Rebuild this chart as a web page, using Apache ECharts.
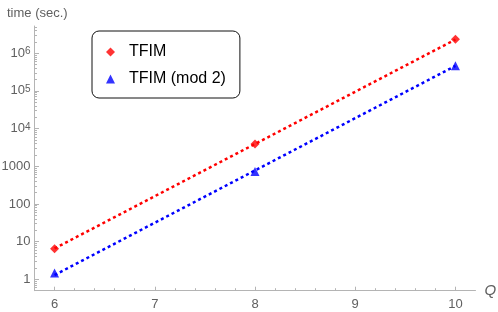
<!DOCTYPE html>
<html>
<head>
<meta charset="utf-8">
<script src="https://cdn.jsdelivr.net/npm/echarts@6/dist/echarts.min.js"></script>
<style>
html,body{margin:0;padding:0;background:#fff;}
#c{width:498px;height:312px;}
</style>
</head>
<body>
<div id="c"></div>
<script>
// ---- data ----
const qValues = [6, 8, 10];
const tfimTimes = [6.5, 3880, 2.35e6];
const mod2Times = [1.47, 728, 4.6e5];
const fitQ = [6, 10];
const tfimFit = [6.6, 2.3e6];
const mod2Fit = [1.3, 4.6e5];
const xTickValues = [6, 7, 8, 9, 10];
const yTickExponents = [0, 1, 2, 3, 4, 5, 6];
const seriesNames = ['TFIM', 'TFIM (mod 2)'];
const yAxisTitle = 'time (sec.)';
const xAxisTitle = 'Q';

const FONT = 'Liberation Sans, Arial, Helvetica, sans-serif';
const AXIS_COLOR = '#b4b4b4';
const LABEL_COLOR = '#606060';
const xMin = 5.8, xMax = 10.2;
const yMin = Math.log10(0.5), yMax = 6.72;

const lg = v => Math.log10(v);
function pairs(xs, ys) { return xs.map((x, i) => [x, lg(ys[i])]); }

// minor ticks
const yMinor = [];
[0.5, 0.6, 0.7, 0.8, 0.9].forEach(v => yMinor.push(lg(v)));
for (let n = 0; n <= 6; n++) {
  for (let k = 2; k <= 9; k++) {
    const v = lg(k * Math.pow(10, n));
    if (v < yMax) yMinor.push(v);
  }
}
const xMinor = [];
for (let i = 1; i < 22; i++) {
  const v = Math.round((xMin + i * 0.2) * 10) / 10;
  if (Math.abs(v - Math.round(v)) > 1e-6 && v < xMax) xMinor.push(v);
}

const gridBox = {left: 34.5, right: 22.5, top: 26, bottom: 21.3, outerBoundsMode: 'none', containLabel: false};

const chart = echarts.init(document.getElementById('c'), null, {renderer: 'canvas'});
chart.setOption({
  animation: false,
  backgroundColor: '#fff',
  textStyle: {fontFamily: FONT},
  title: {
    text: yAxisTitle, left: 2, top: 2,
    textStyle: {fontSize: 13, fontWeight: 'normal', color: LABEL_COLOR, fontFamily: FONT}
  },
  legend: {
    data: [{name: seriesNames[0], icon: 'diamond'}, {name: seriesNames[1], icon: 'triangle'}],
    orient: 'vertical', left: 92, top: 31,
    padding: [13, 14, 11, 14],
    itemGap: 11, itemWidth: 9, itemHeight: 9,
    borderColor: '#111', borderWidth: 1, borderRadius: 7,
    backgroundColor: '#fff',
    textStyle: {fontSize: 16, color: '#000', fontFamily: FONT, lineHeight: 16, padding: [0, 0, 0, 9]}
  },
  grid: [Object.assign({}, gridBox), Object.assign({}, gridBox)],
  xAxis: [{
    gridIndex: 0, type: 'value', min: xMin, max: xMax,
    name: xAxisTitle, nameLocation: 'end', nameGap: 9,
    nameTextStyle: {fontStyle: 'italic', fontSize: 15, color: LABEL_COLOR, fontFamily: FONT, verticalAlign: 'middle'},
    axisLine: {show: true, onZero: false, lineStyle: {color: AXIS_COLOR, width: 1}},
    axisTick: {show: true, inside: true, length: 4, customValues: xTickValues, lineStyle: {color: AXIS_COLOR}},
    axisLabel: {customValues: xTickValues, color: LABEL_COLOR, fontSize: 13, margin: 7, fontFamily: FONT},
    splitLine: {show: false}
  }, {
    gridIndex: 1, type: 'value', min: xMin, max: xMax,
    axisLine: {show: false, onZero: false},
    axisTick: {show: true, inside: true, length: 2.5, customValues: xMinor, lineStyle: {color: AXIS_COLOR}},
    axisLabel: {show: false},
    splitLine: {show: false}
  }],
  yAxis: [{
    gridIndex: 0, type: 'value', min: yMin, max: yMax,
    axisLine: {show: true, onZero: false, lineStyle: {color: AXIS_COLOR, width: 1}},
    axisTick: {show: true, inside: true, length: 4.5, customValues: yTickExponents, lineStyle: {color: AXIS_COLOR}},
    axisLabel: {
      customValues: yTickExponents, color: LABEL_COLOR, fontSize: 13, margin: 4, fontFamily: FONT,
      formatter: function (v) {
        const n = Math.round(v);
        if (n <= 3) return String(Math.pow(10, n));
        return '{b|10}{s|' + n + '}';
      },
      rich: {
        b: {fontSize: 13, color: LABEL_COLOR, fontFamily: FONT},
        s: {fontSize: 10, color: LABEL_COLOR, fontFamily: FONT, padding: [0, 0, 9, 0], verticalAlign: 'top', lineHeight: 10}
      }
    },
    splitLine: {show: false}
  }, {
    gridIndex: 1, type: 'value', min: yMin, max: yMax,
    axisLine: {show: false, onZero: false},
    axisTick: {show: true, inside: true, length: 2.5, customValues: yMinor, lineStyle: {color: AXIS_COLOR}},
    axisLabel: {show: false},
    splitLine: {show: false}
  }],
  series: [{
    name: 'TFIM fit', type: 'line', xAxisIndex: 0, yAxisIndex: 0,
    data: pairs(fitQ, tfimFit), showSymbol: false, silent: true, z: 2,
    lineStyle: {color: '#ff0000', width: 2.5, type: [3, 3], cap: 'butt'}
  }, {
    name: 'TFIM (mod 2) fit', type: 'line', xAxisIndex: 0, yAxisIndex: 0,
    data: pairs(fitQ, mod2Fit), showSymbol: false, silent: true, z: 2,
    lineStyle: {color: '#0000ff', width: 2.5, type: [3, 3], cap: 'butt'}
  }, {
    name: seriesNames[0], type: 'scatter', xAxisIndex: 0, yAxisIndex: 0,
    data: pairs(qValues, tfimTimes), symbol: 'diamond', symbolSize: [9, 9], z: 3,
    itemStyle: {color: '#ff0000'}
  }, {
    name: seriesNames[1], type: 'scatter', xAxisIndex: 0, yAxisIndex: 0,
    data: pairs(qValues, mod2Times), symbol: 'triangle', symbolSize: [9, 9], z: 3,
    itemStyle: {color: '#0000ff'}
  }]
});
</script>
</body>
</html>
